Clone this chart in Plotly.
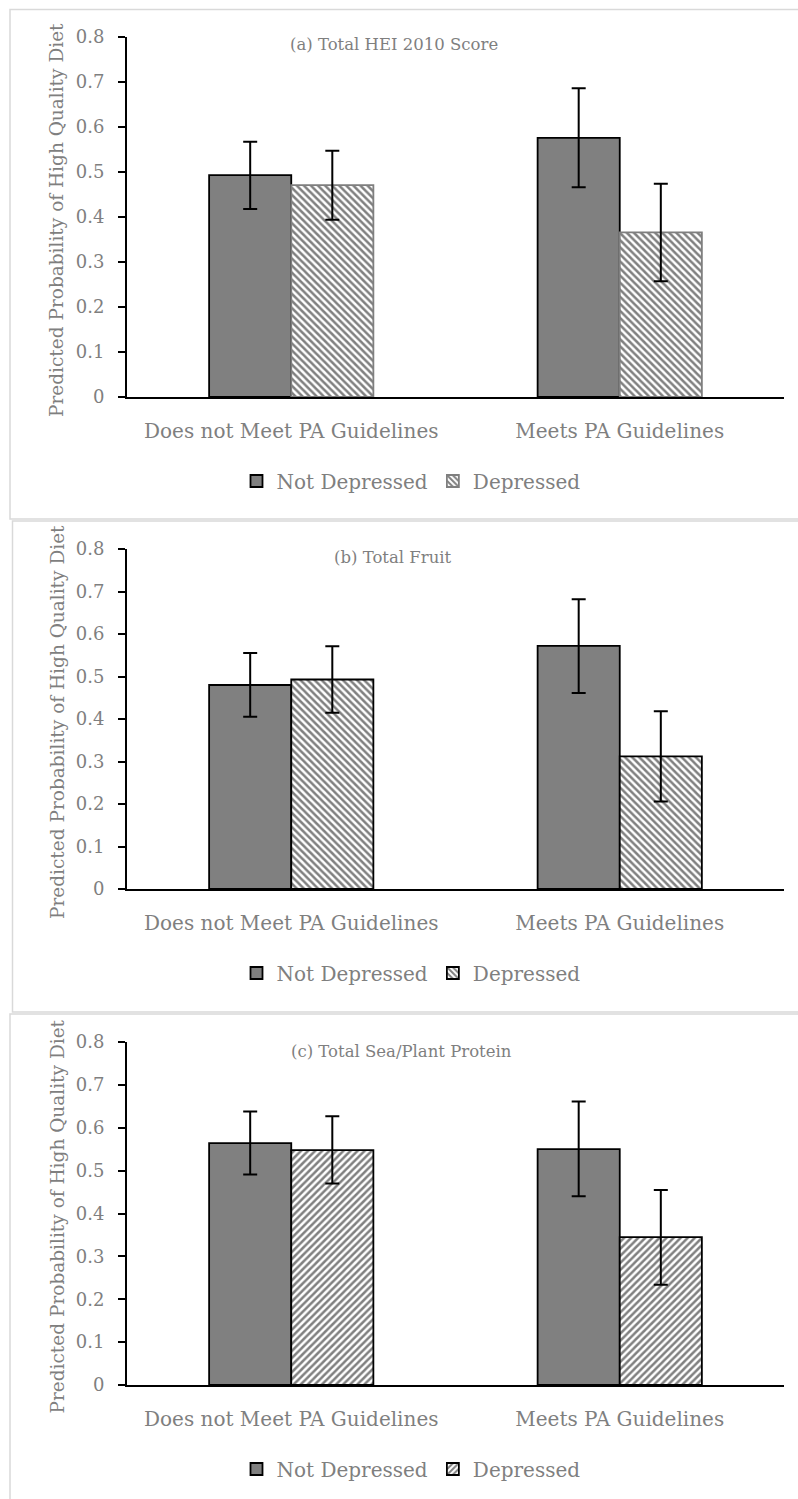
import plotly.graph_objects as go

W, H = 798, 1499

categories = ["Does not Meet PA Guidelines", "Meets PA Guidelines"]
series_names = ["Not Depressed", "Depressed"]
panel_titles = ["(a) Total HEI 2010 Score", "(b) Total Fruit", "(c) Total Sea/Plant Protein"]
y_axis_title = "Predicted Probability of High Quality Diet"
y_ticks = [0, 0.1, 0.2, 0.3, 0.4, 0.5, 0.6, 0.7, 0.8]
y_tick_labels = ["0", "0.1", "0.2", "0.3", "0.4", "0.5", "0.6", "0.7", "0.8"]

# Panel (a)
a_not_dep = [0.493, 0.576]
a_not_dep_lo = [0.418, 0.466]
a_not_dep_hi = [0.567, 0.686]
a_dep = [0.471, 0.366]
a_dep_lo = [0.394, 0.257]
a_dep_hi = [0.547, 0.474]

# Panel (b)
b_not_dep = [0.480, 0.572]
b_not_dep_lo = [0.405, 0.461]
b_not_dep_hi = [0.555, 0.682]
b_dep = [0.493, 0.312]
b_dep_lo = [0.415, 0.206]
b_dep_hi = [0.571, 0.418]

# Panel (c)
c_not_dep = [0.564, 0.550]
c_not_dep_lo = [0.491, 0.440]
c_not_dep_hi = [0.638, 0.661]
c_dep = [0.548, 0.345]
c_dep_lo = [0.470, 0.234]
c_dep_hi = [0.627, 0.455]

FONT = "DejaVu Serif"
GRAY = "#7f7f7f"


def py(p):
    return 1 - p / H


def px(p):
    return p / W


panels = [
    dict(nd=(a_not_dep, a_not_dep_lo, a_not_dep_hi), d=(a_dep, a_dep_lo, a_dep_hi),
         top=37, bottom=397, shape="\\", dep_line=GRAY, title_x=394, title_y=45,
         legend_y=481, box=(10, 9.5, 800, 519)),
    dict(nd=(b_not_dep, b_not_dep_lo, b_not_dep_hi), d=(b_dep, b_dep_lo, b_dep_hi),
         top=549, bottom=889, shape="\\", dep_line="black", title_x=393, title_y=557,
         legend_y=973, box=(12.5, 521, 800, 1012)),
    dict(nd=(c_not_dep, c_not_dep_lo, c_not_dep_hi), d=(c_dep, c_dep_lo, c_dep_hi),
         top=1042, bottom=1385, shape="/", dep_line="black", title_x=401, title_y=1051,
         legend_y=1469, box=(10, 1014, 800, 1510)),
]

fig = go.Figure()
shapes = []
annotations = []

for i, p in enumerate(panels):
    n = "" if i == 0 else str(i + 1)
    xa, ya = "x" + n, "y" + n
    leg = "legend" + n
    nd_v, nd_lo, nd_hi = p["nd"]
    d_v, d_lo, d_hi = p["d"]
    fig.add_trace(go.Bar(
        x=categories, y=nd_v, name=series_names[0], xaxis=xa, yaxis=ya, legend=leg,
        marker=dict(color="#808080", line=dict(color="black", width=1.8)),
        error_y=dict(type="data", symmetric=False,
                     array=[h - v for h, v in zip(nd_hi, nd_v)],
                     arrayminus=[v - l for v, l in zip(nd_v, nd_lo)],
                     color="black", thickness=2, width=7),
    ))
    fig.add_trace(go.Bar(
        x=categories, y=d_v, name=series_names[1], xaxis=xa, yaxis=ya, legend=leg,
        marker=dict(color="white", line=dict(color=p["dep_line"], width=1.8),
                    pattern=dict(shape=p["shape"], fgcolor="#808080", bgcolor="white",
                                 size=5, solidity=0.5, fillmode="replace")),
        error_y=dict(type="data", symmetric=False,
                     array=[h - v for h, v in zip(d_hi, d_v)],
                     arrayminus=[v - l for v, l in zip(d_v, d_lo)],
                     color="black", thickness=2, width=7),
    ))
    dom_x = [px(127), px(784)]
    dom_y = [py(p["bottom"]), py(p["top"])]
    fig.update_layout({
        ("xaxis" + n): dict(domain=dom_x, anchor=ya, type="category", range=[-0.5, 1.5],
                            showline=True, linecolor="black", linewidth=2, ticks="",
                            showgrid=False, zeroline=False, automargin=False,
                            ticklabelstandoff=15,
                            tickfont=dict(family=FONT, size=20, color=GRAY)),
        ("yaxis" + n): dict(domain=dom_y, anchor=xa, range=[0, 0.8], tickvals=y_ticks,
                            ticktext=y_tick_labels, showline=True, linecolor="black",
                            linewidth=2, ticks="outside", ticklen=7, tickcolor="black",
                            tickwidth=2, showgrid=False, zeroline=False, automargin=False,
                            ticklabelstandoff=10,
                            tickfont=dict(family=FONT, size=18, color=GRAY)),
        leg: dict(orientation="h", x=0.5 + 12 / W, xanchor="center", y=py(p["legend_y"]),
                  yanchor="middle", font=dict(family=FONT, size=20, color=GRAY),
                  bgcolor="rgba(0,0,0,0)", traceorder="normal"),
    })
    x0, y0, x1, y1 = p["box"]
    shapes.append(dict(type="rect", xref="paper", yref="paper",
                       x0=px(x0), x1=px(x1), y0=py(y1), y1=py(y0),
                       line=dict(color="#d9d9d9", width=1.5), fillcolor="rgba(0,0,0,0)",
                       layer="below"))
    annotations.append(dict(text=panel_titles[i], xref="paper", yref="paper",
                            x=px(p["title_x"]), y=py(p["title_y"]), xanchor="center",
                            yanchor="middle", showarrow=False,
                            font=dict(family=FONT, size=16.5, color=GRAY)))
    annotations.append(dict(text=y_axis_title, xref="paper", yref="paper",
                            x=px(57), y=py((p["top"] + p["bottom"]) / 2 + 3), xanchor="center",
                            yanchor="middle", showarrow=False, textangle=-90,
                            font=dict(family=FONT, size=18.5, color=GRAY)))

fig.update_layout(
    width=W, height=H, margin=dict(l=0, r=0, t=0, b=0, autoexpand=False),
    paper_bgcolor="white", plot_bgcolor="white",
    barmode="group", bargap=0.5, bargroupgap=0,
    shapes=shapes, annotations=annotations,
)

fig.write_html("out.html", config={"displayModeBar": False},
               post_script="document.body.style.margin='0';document.body.style.overflow='hidden';")
